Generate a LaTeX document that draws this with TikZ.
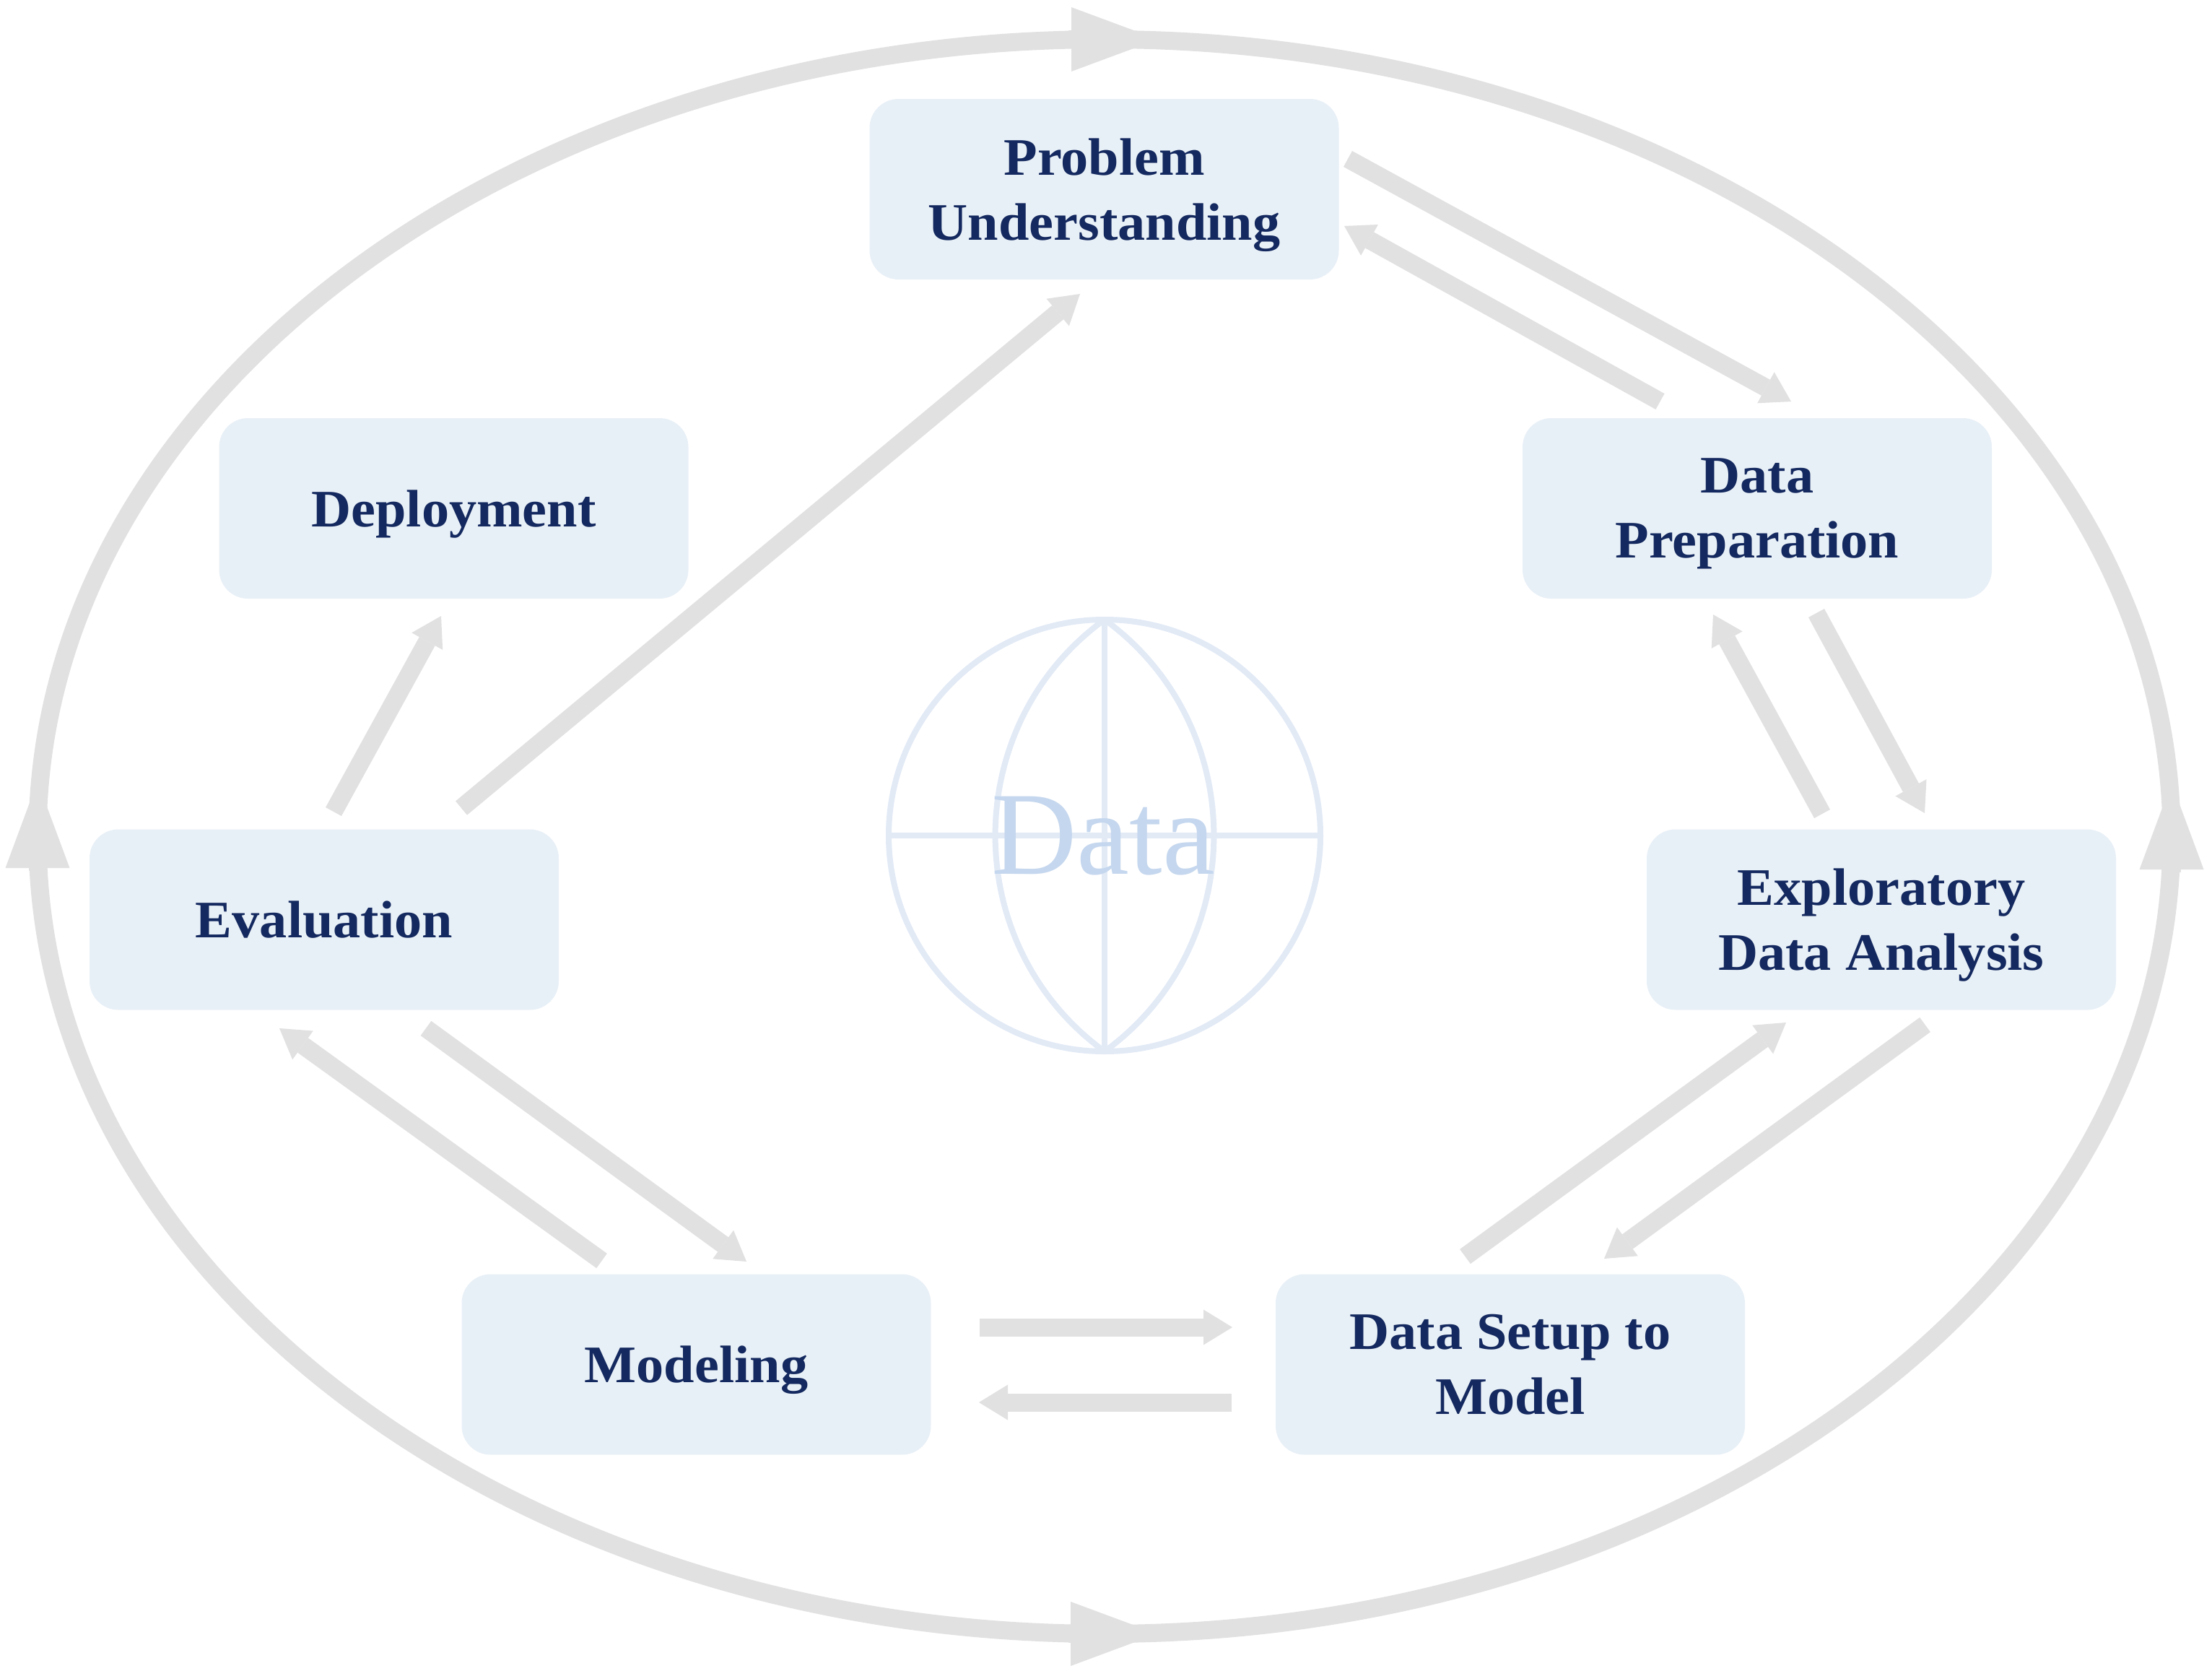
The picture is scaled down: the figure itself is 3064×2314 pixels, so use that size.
\documentclass[tikz,border=0pt]{standalone}
\usepackage{fontspec}
\usetikzlibrary{arrows.meta}
\setmainfont{Liberation Serif}
\newfontfamily\boxfont{Liberation Serif}[FakeStretch=1.045]
\definecolor{boxfill}{HTML}{E8F0F7}
\definecolor{boxtext}{HTML}{14295F}
\definecolor{flowgrey}{HTML}{E1E1E1}
\definecolor{globeline}{HTML}{E2EAF6}
\definecolor{globetext}{HTML}{C5D7EE}
\tikzset{
  stagebox/.style={fill=boxfill,draw=none,rounded corners=10pt,minimum width=162.5pt,minimum height=62.5pt,inner sep=0pt,align=center,text=boxtext,font=\boxfont\bfseries\fontsize{18.25}{22.5}\selectfont},
  oneline/.style={text height=16.25pt,text depth=3.75pt},
  twoline/.style={text depth=0pt},
  flow/.style={draw=flowgrey,line width=6.25pt,-{Triangle[length=10pt,width=12.25pt,line width=0pt,fill=flowgrey]}},
  bigring/.style={draw=flowgrey,line width=6.25pt},
  bighead/.style={draw=flowgrey,line width=6.25pt,-{Triangle[length=30pt,width=22.25pt,line width=0pt,fill=flowgrey]}},
  globe/.style={draw=globeline,line width=2pt},
}
\begin{document}
\begin{tikzpicture}[x=0.25pt,y=-0.25pt]
\useasboundingbox (0,0) rectangle (3064,2314);
\fill[white] (0,0) rectangle (3064,2314);
% outer ring
\coordinate (ringC) at (1530,1158.5);
\draw[bigring] (ringC) ellipse [x radius=1478,y radius=1104];
\coordinate (topA) at (1480,54.5);  \coordinate (topB) at (1604,54.5);
\coordinate (botA) at (1480,2262.5);\coordinate (botB) at (1603,2262.5);
\coordinate (leftA) at (52,1206);   \coordinate (leftB) at (52,1082);
\coordinate (rightA) at (3008,1208);\coordinate (rightB) at (3008,1084);
\draw[bighead] (topA) -- (topB);
\draw[bighead] (botA) -- (botB);
\draw[bighead] (leftA) -- (leftB);
\draw[bighead] (rightA) -- (rightB);
% globe
\coordinate (gc) at (1530,1157);
\coordinate (gt) at (1530,858);
\coordinate (gb) at (1530,1456);
\coordinate (gl) at (1231,1157);
\coordinate (gr) at (1829,1157);
\draw[globe] (gc) circle [radius=299];
\draw[globe] (gt) -- (gb);
\draw[globe] (gl) -- (gr);
\draw[globe] (gt) to[bend right=54,looseness=1.07] (gb);
\draw[globe] (gt) to[bend left=54,looseness=1.07] (gb);
\node[anchor=base,inner sep=0pt,text=globetext,font=\fontsize{41}{41}\selectfont] (datalabel) at (1528,1210) {Data};
% stages
\node[stagebox,twoline] (prob) at (1529.5,262) {Problem\\Understanding};
\node[stagebox,oneline] (depl) at (628.5,704) {Deployment};
\node[stagebox,twoline] (prep) at (2434,704) {Data\\Preparation};
\node[stagebox,oneline] (eval) at (449,1273.5) {Evaluation};
\node[stagebox,twoline] (eda) at (2606,1273.5) {Exploratory\\Data Analysis};
\node[stagebox,oneline] (modl) at (964.5,1889.5) {Modeling};
\node[stagebox,twoline] (setup) at (2092,1889.5) {Data Setup to\\Model};
% connector ends
\coordinate (a1) at (1867,220);    \coordinate (a2) at (2481,556);
\coordinate (b1) at (2299.5,556);  \coordinate (b2) at (1862,313);
\coordinate (c1) at (2516,849);    \coordinate (c2) at (2666,1126);
\coordinate (d1) at (2524,1127);   \coordinate (d2) at (2373,851);
\coordinate (e1) at (2666.5,1419); \coordinate (e2) at (2222,1743);
\coordinate (f1) at (2029.5,1740); \coordinate (f2) at (2474,1416);
\coordinate (g1) at (1357,1838);   \coordinate (g2) at (1707,1838);
\coordinate (h1) at (1706,1942);   \coordinate (h2) at (1356,1942);
\coordinate (i1) at (833.5,1746);  \coordinate (i2) at (387,1424);
\coordinate (j1) at (590,1424);    \coordinate (j2) at (1034,1747);
\coordinate (k1) at (462,1124);    \coordinate (k2) at (611,853);
\coordinate (l1) at (639,1119);    \coordinate (l2) at (1496,407);
\foreach \s/\t in {a1/a2,b1/b2,c1/c2,d1/d2,e1/e2,f1/f2,g1/g2,h1/h2,i1/i2,j1/j2,k1/k2,l1/l2}
  \draw[flow] (\s) -- (\t);
\end{tikzpicture}
\end{document}
